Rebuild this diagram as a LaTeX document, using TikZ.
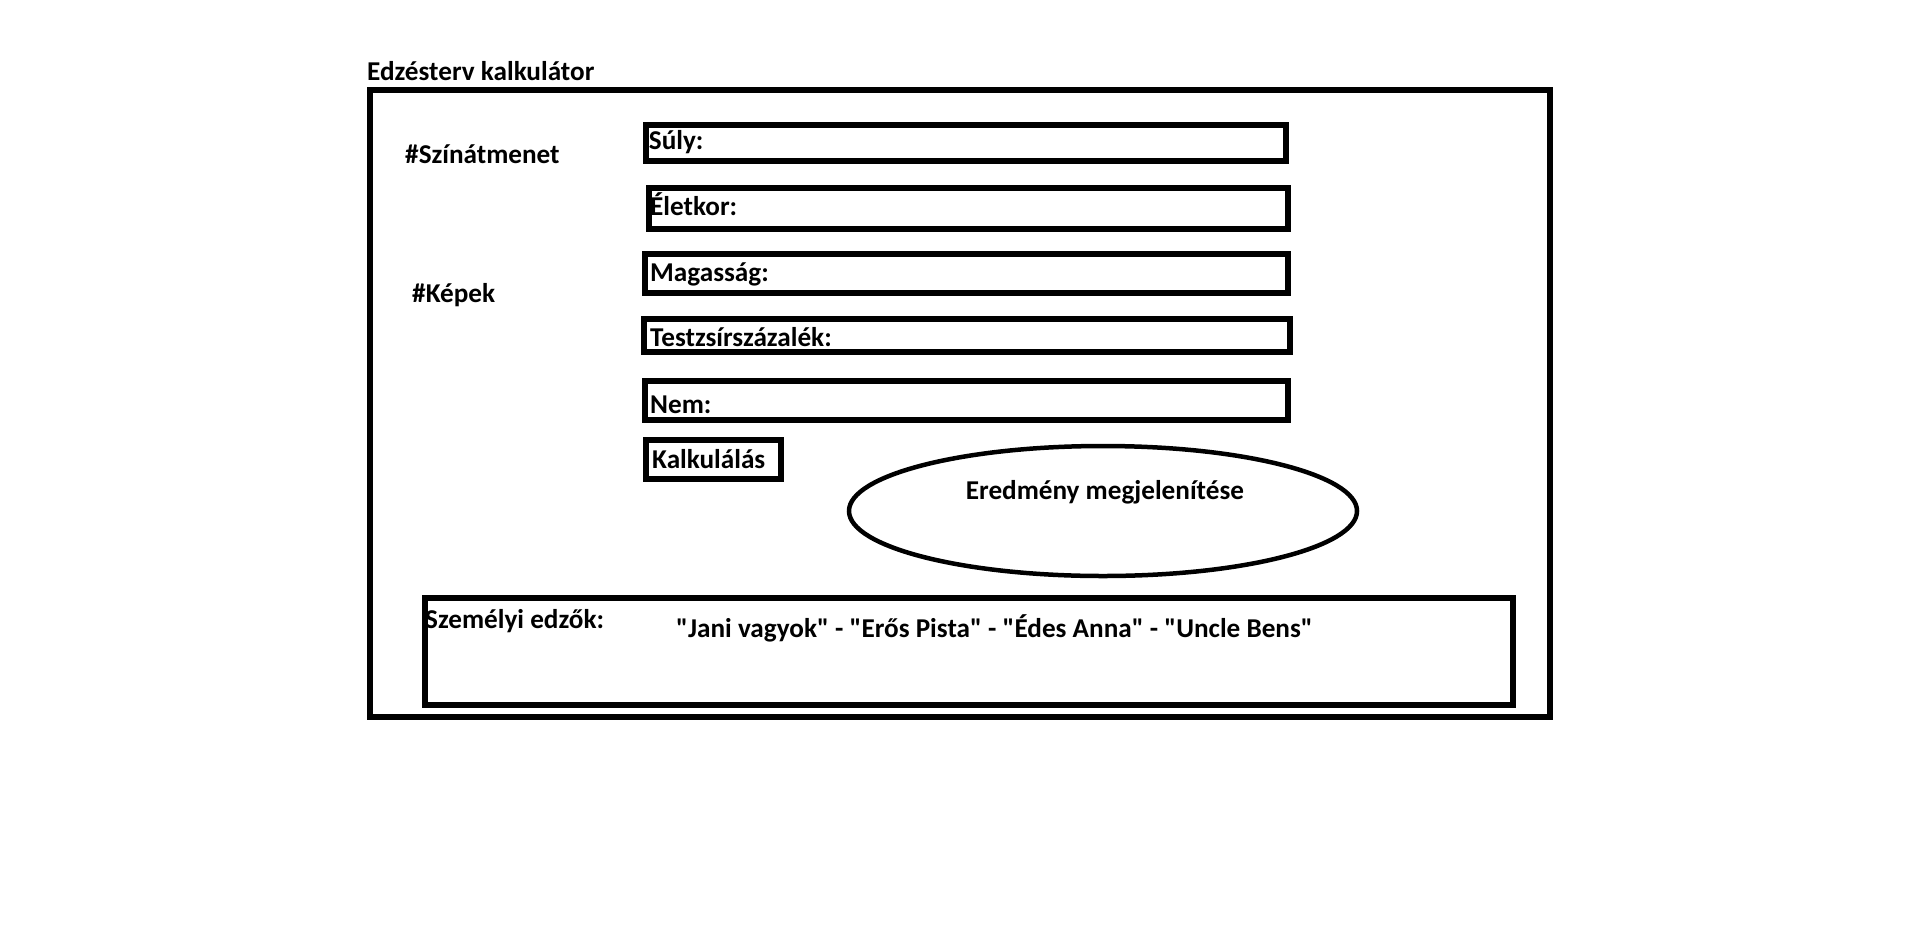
\documentclass[tikz,border=0pt]{standalone}
\usepackage{fontspec}
\setmainfont{Carlito}[Ligatures=TeXOff]
\usepackage{tikz}
\usetikzlibrary{shapes.geometric}

\begin{document}
\begin{tikzpicture}[x=1pt, y=-1pt,
	every node/.style={font=\fontsize{27.2}{31}\selectfont\bfseries},
	txt/.style={inner sep=0pt, anchor=base west},
	box/.style={draw, line width=6pt, rectangle, inner sep=0pt},
	result/.style={draw, line width=4.5pt, ellipse, inner sep=0pt}]
	\useasboundingbox (0,0) rectangle (1914,927);
	\node[txt] (title) at (367,80) {Edzésterv kalkulátor};
	\node[box, minimum width=1180pt, minimum height=627pt] (frame) at (960,403.5) {};
	\node[txt] (szin) at (405,163.5) {\#Színátmenet};
	\node[txt] (kepek) at (412,302.5) {\#Képek};
	\node[box, minimum width=640pt, minimum height=36.5pt] (suly) at (966,142.75) {};
	\node[txt] (sulytxt) at (648.7,149.5) {Súly:};
	\node[box, minimum width=639pt, minimum height=40.4pt] (eletkor) at (968.2,208.5) {};
	\node[txt] (eletkortxt) at (650,215.5) {Életkor:};
	\node[box, minimum width=642.7pt, minimum height=38.4pt] (magassag) at (966.3,273.5) {};
	\node[txt] (magassagtxt) at (650,281.5) {Magasság:};
	\node[box, minimum width=646pt, minimum height=32.7pt] (testzsir) at (967,335.3) {};
	\node[txt] (testzsirtxt) at (650,346.5) {Testzsírszázalék:};
	\node[box, minimum width=642.7pt, minimum height=39pt] (nem) at (966.3,400.8) {};
	\node[txt] (nemtxt) at (650,413) {Nem:};
	\node[box, minimum width=134.6pt, minimum height=38.4pt] (kalk) at (713.7,459.5) {};
	\node[txt] (kalktxt) at (652,468.5) {Kalkulálás};
	\node[result, minimum width=508pt, minimum height=130pt] (eredmeny) at (1103,511) {};
	\node[txt, anchor=base] (eredmenytxt) at (1105,499.5) {Eredmény megjelenítése};
	\node[box, minimum width=1088pt, minimum height=107pt] (edzok) at (969,651.5) {};
	\node[txt] (edzoktxt) at (425,628) {Személyi edzők:};
	\node[txt] (nevek) at (676,637) {"Jani vagyok" - "Erős Pista" - "Édes Anna" - "Uncle Bens"};
\end{tikzpicture}
\end{document}
